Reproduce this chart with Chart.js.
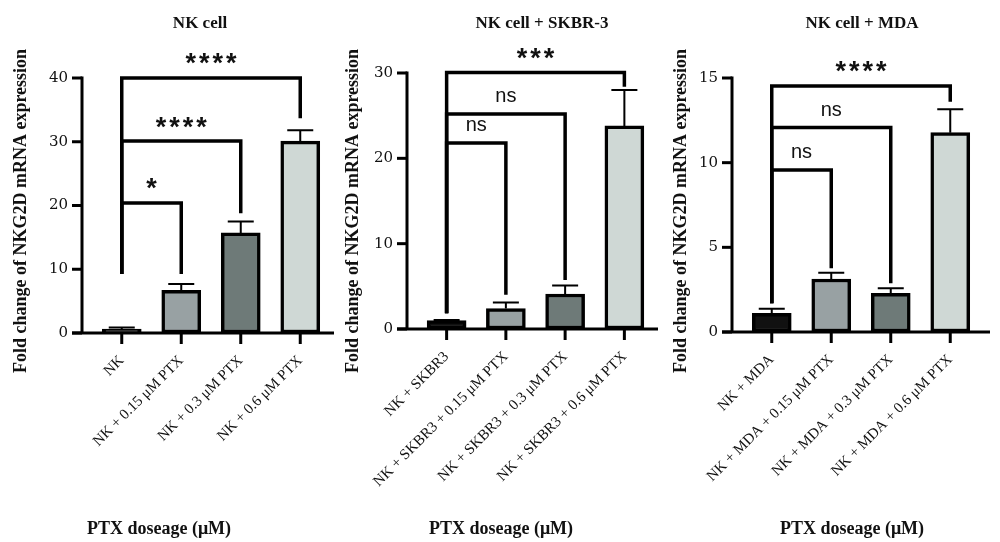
<!DOCTYPE html>
<html>
<head>
<meta charset="utf-8">
<script src="https://cdn.jsdelivr.net/npm/chart.js@4.4.1/dist/chart.umd.min.js"></script>
<style>
    html, body { margin: 0; padding: 0; background: #fff; }
    #wrap { position: relative; width: 1000px; height: 542px; }
    canvas { position: absolute; left: 0; top: 0; }
</style>
</head>
<body>
<div id="wrap">
    <canvas id="c1" width="1000" height="542"></canvas>
    <canvas id="c2" width="1000" height="542"></canvas>
    <canvas id="c3" width="1000" height="542"></canvas>
</div>
<script>
// panel titles
const titles = ["NK cell", "NK cell + SKBR-3", "NK cell + MDA"]
const yTitle = "Fold change of NKG2D mRNA expression"
const xTitle = "PTX doseage (μM)"

// categories
const nkLabels = ["NK", "NK + 0.15 μM PTX", "NK + 0.3 μM PTX", "NK + 0.6 μM PTX"]
const skbrLabels = ["NK + SKBR3", "NK + SKBR3 + 0.15 μM PTX", "NK + SKBR3 + 0.3 μM PTX", "NK + SKBR3 + 0.6 μM PTX"]
const mdaLabels = ["NK + MDA", "NK + MDA + 0.15 μM PTX", "NK + MDA + 0.3 μM PTX", "NK + MDA + 0.6 μM PTX"]

// means and SD (upper error only)
const nkValues = [0.6, 6.7, 15.7, 30.1]
const nkSD = [0.25, 1.0, 1.8, 1.7]
const skbrValues = [1.0, 2.4, 4.1, 23.8]
const skbrSD = [0.05, 0.7, 1.0, 4.2]
const mdaValues = [1.1, 3.13, 2.28, 11.77]
const mdaSD = [0.27, 0.37, 0.3, 1.38]

// y axis ticks
const nkTicks = [0, 10, 20, 30, 40]
const skbrTicks = [0, 10, 20, 30]
const mdaTicks = [0, 5, 10, 15]

// significance brackets: [from, to, top, left leg end, right leg end, label]
const nkBrackets = [
    [0, 1, 20.4, 9.25, 9.25, "*"],
    [0, 2, 30.1, 9.25, 18.8, "****"],
    [0, 3, 40, 9.25, 33.7, "****"]
]
const skbrBrackets = [
    [0, 1, 21.8, 1.84, 4.0, "ns"],
    [0, 2, 25.2, 1.84, 5.75, "ns"],
    [0, 3, 30.05, 1.84, 28.4, "***"]
]
const mdaBrackets = [
    [0, 1, 9.57, 1.7, 3.76, "ns"],
    [0, 2, 12.07, 1.7, 2.88, "ns"],
    [0, 3, 14.53, 1.7, 13.6, "****"]
]

const barColors = ["#111111", "#98a1a3", "#6e7a78", "#cfd8d5"]

const prismPlugin = {
    id: "prism",
    afterDraw(chart, args, o) {
        const ctx = chart.ctx
        const xs = chart.scales.x, ys = chart.scales.y
        const ca = chart.chartArea
        const ax = ca.left - 10
        const y0 = ys.getPixelForValue(0)
        const yTop = ys.getPixelForValue(ys.max)
        ctx.save()
        ctx.strokeStyle = "#000"
        ctx.lineWidth = 3

        // axes
        ctx.beginPath()
        ctx.moveTo(ax, yTop - 1.5)
        ctx.lineTo(ax, y0)
        ctx.stroke()
        o.ticks.forEach(t => {
            const p = ys.getPixelForValue(t)
            ctx.beginPath()
            ctx.moveTo(ax - 10, p)
            ctx.lineTo(ax, p)
            ctx.stroke()
        })
        ctx.beginPath()
        ctx.moveTo(ax - 10, y0)
        ctx.lineTo(ca.right + o.axisExtra, y0)
        ctx.stroke()
        o.values.forEach((v, i) => {
            const px = xs.getPixelForValue(i)
            ctx.beginPath()
            ctx.moveTo(px, y0)
            ctx.lineTo(px, y0 + 11)
            ctx.stroke()
        })

        // error bars
        ctx.lineWidth = 2
        o.values.forEach((v, i) => {
            const px = xs.getPixelForValue(i)
            const top = ys.getPixelForValue(v + o.sd[i])
            ctx.beginPath()
            ctx.moveTo(px, ys.getPixelForValue(v))
            ctx.lineTo(px, top)
            ctx.moveTo(px - 13, top)
            ctx.lineTo(px + 13, top)
            ctx.stroke()
        })

        // brackets
        ctx.lineWidth = 3.5
        ctx.lineJoin = "miter"
        ctx.fillStyle = "#111"
        ctx.textAlign = "center"
        ctx.textBaseline = "middle"
        o.brackets.forEach(b => {
            const x1 = xs.getPixelForValue(b[0]), x2 = xs.getPixelForValue(b[1])
            const yb = ys.getPixelForValue(b[2])
            ctx.beginPath()
            ctx.moveTo(x1, ys.getPixelForValue(b[3]))
            ctx.lineTo(x1, yb)
            ctx.lineTo(x2, yb)
            ctx.lineTo(x2, ys.getPixelForValue(b[4]))
            ctx.stroke()
            const mid = (x1 + x2) / 2
            if (b[5] === "ns") {
                ctx.letterSpacing = "0px"
                ctx.font = '20px "Liberation Sans"'
                ctx.fillText(b[5], mid, yb - 17)
            } else {
                ctx.letterSpacing = "3px"
                ctx.font = 'bold 27px "Liberation Sans"'
                ctx.fillText(b[5], mid + 1.5, yb - 13)
            }
        })
        ctx.letterSpacing = "0px"

        // texts
        ctx.fillStyle = "#111"
        ctx.font = 'bold 17px "Liberation Serif"'
        ctx.fillText(o.title, o.titleX, 24)
        ctx.font = 'bold 18px "Liberation Serif"'
        ctx.fillText(xTitle, o.bottomX, 529)
        ctx.translate(o.yTitleX, 211)
        ctx.rotate(-Math.PI / 2)
        ctx.fillText(yTitle, 0, 0)
        ctx.restore()
    }
}

function makePanel(id, labels, values, sd, ticks, brackets, lay) {
    return new Chart(document.getElementById(id), {
        type: "bar",
        data: {
            labels: labels,
            datasets: [{
                data: values,
                backgroundColor: barColors,
                borderColor: "#000",
                borderWidth: 3.5,
                borderSkipped: false,
                barThickness: 39
            }]
        },
        options: {
            responsive: false,
            animation: false,
            devicePixelRatio: 1,
            layout: { padding: { left: 0, right: 1000 - lay.right, top: lay.top, bottom: 0 } },
            plugins: {
                legend: { display: false },
                tooltip: { enabled: false },
                prism: {
                    values: values, sd: sd, ticks: ticks, brackets: brackets,
                    title: lay.title, titleX: lay.titleX, yTitleX: lay.yTitleX,
                    bottomX: lay.bottomX, axisExtra: lay.axisExtra
                }
            },
            scales: {
                x: {
                    grid: { display: false, drawTicks: false },
                    border: { display: false },
                    ticks: {
                        autoSkip: false, minRotation: 45, maxRotation: 45, padding: 19,
                        color: "#111", font: { family: "Liberation Serif", size: 15 }
                    },
                    afterFit: s => { s.height = 542 - lay.bottom }
                },
                y: {
                    min: 0,
                    max: ticks[ticks.length - 1],
                    grid: { display: false, drawTicks: false },
                    border: { display: false },
                    afterBuildTicks: s => { s.ticks = ticks.map(v => ({ value: v })) },
                    ticks: { padding: 24, color: "#111", font: { family: "DejaVu Serif", size: 15 } },
                    afterFit: s => { s.width = lay.left }
                }
            }
        },
        plugins: [prismPlugin]
    })
}

makePanel("c1", nkLabels, nkValues, nkSD, nkTicks, nkBrackets,
    { left: 92, right: 330, top: 78, bottom: 333, title: titles[0], titleX: 200, yTitleX: 21, bottomX: 159, axisExtra: 4 })
makePanel("c2", skbrLabels, skbrValues, skbrSD, skbrTicks, skbrBrackets,
    { left: 417, right: 654, top: 73, bottom: 329, title: titles[1], titleX: 542, yTitleX: 353, bottomX: 501, axisExtra: 4 })
makePanel("c3", mdaLabels, mdaValues, mdaSD, mdaTicks, mdaBrackets,
    { left: 742, right: 980, top: 78, bottom: 332, title: titles[2], titleX: 862, yTitleX: 681, bottomX: 852, axisExtra: 10 })
</script>
</body>
</html>
